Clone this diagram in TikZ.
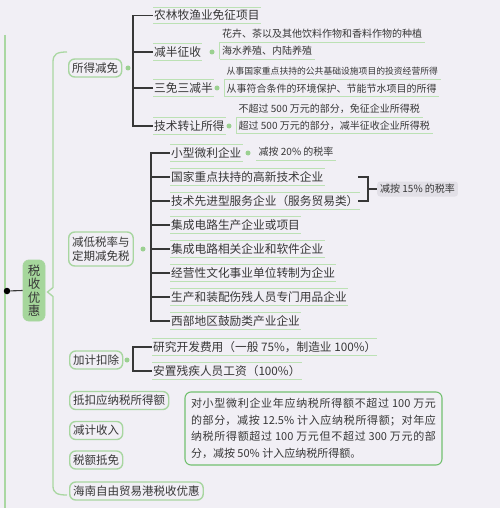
\documentclass[tikz,border=0pt]{standalone}
\usepackage{fontspec}
\setmainfont{Noto Sans CJK SC}
\XeTeXlinebreaklocale "zh"
\XeTeXlinebreakskip = 0pt plus 2pt
\definecolor{bg}{RGB}{241,239,245}
\definecolor{boxline}{RGB}{168,214,160}
\definecolor{mainline}{RGB}{170,215,162}
\definecolor{leafline}{RGB}{188,225,180}
\definecolor{gdot}{RGB}{155,208,145}
\definecolor{conn}{RGB}{55,55,55}
\definecolor{txt}{RGB}{55,55,55}
\definecolor{rootfill}{RGB}{165,214,155}
\definecolor{notebord}{RGB}{115,192,112}
\definecolor{grayfill}{RGB}{226,224,231}
\begin{document}
\begin{tikzpicture}[x=1pt,y=-1pt,
  lvtwo/.style={draw=boxline, line width=1.4pt, rounded corners=6pt, fill=bg, text=txt,
    font=\fontsize{11.5}{14}\selectfont, inner xsep=3.5pt, inner ysep=0pt, minimum height=18pt, anchor=west},
  leaf/.style={text=txt, font=\fontsize{11.7}{14}\selectfont, inner xsep=1pt, inner ysep=0pt,
    minimum height=16pt, anchor=west},
  small/.style={text=txt, font=\fontsize{10}{12}\selectfont, inner xsep=2.5pt, inner ysep=0pt,
    minimum height=16pt, anchor=west},
  gdotst/.style={circle, fill=gdot, inner sep=0pt, minimum size=5pt},
  connst/.style={draw=conn, line width=1.1pt},
  mline/.style={draw=mainline, line width=1.3pt},
  lline/.style={draw=leafline, line width=1pt},
]
\fill[bg] (0,0) rectangle (500,508);
\useasboundingbox (0,0) rectangle (500,508);

% left line and root
\coordinate (lt) at (5,35);
\coordinate (lb) at (5,508);
\draw[mline] (lt) -- (lb);
\node[draw=boxline, line width=0.8pt, fill=rootfill, rounded corners=6pt, minimum width=22pt, minimum height=61pt,
  inner sep=0pt, align=center, text=txt, font=\fontsize{12.5}{13.5}\selectfont] (root) at (34,290.5) {税\\收\\优\\惠};
\node[circle, fill=black, inner sep=0pt, minimum size=6.5pt] (rdot) at (7,291) {};
\draw[connst] (rdot) -- (root.west);

% brace
\draw[mline] (67,52) .. controls (57,52) and (53,54) .. (53,62) -- (53,287.5) -- (47.5,292) -- (53,296.5)
  -- (53,486) .. controls (53,493) and (57,495) .. (67,495);

% level two
\node[lvtwo] (sdjm) at (68,68) {所得减免};
\node[lvtwo, minimum height=34pt, align=center] (jdsl) at (68,249) {减低税率与\\定期减免税};
\node[lvtwo] (jjkc) at (69,360) {加计扣除};
\node[lvtwo] (dkyn) at (69,400.5) {抵扣应纳税所得额};
\node[lvtwo] (jjsr) at (69,430.5) {减计收入};
\node[lvtwo] (sedm) at (69,460) {税额抵免};
\node[lvtwo] (hnzm) at (69,491) {海南自由贸易港税收优惠};

\node[gdotst] (d1) at (128,68) {};
\node[gdotst] (d2) at (143,249) {};
\node[gdotst] (d3) at (127,360) {};

% children of 所得减免
\node[leaf] (a1) at (153,15.5) {农林牧渔业免征项目};
\node[leaf] (a2) at (153,52) {减半征收};
\node[leaf] (a3) at (153,88) {三免三减半};
\node[leaf] (a4) at (153,126) {技术转让所得};
\coordinate (ba) at (133,68);
\draw[connst] (a1.west) -| (ba) |- (a4.west);
\draw[connst] (a2.west) -- (a2.west -| ba);
\draw[connst] (a3.west) -- (a3.west -| ba);

\node[gdotst] (e2) at (212,52) {};
\node[gdotst] (e3) at (217,88) {};
\node[gdotst] (e4) at (229,126) {};

\node[small] (a2t) at (219.5,34) {花卉、茶以及其他饮料作物和香料作物的种植};
\node[small] (a2b) at (219.5,51) {海水养殖、内陆养殖};
\node[small, font=\fontsize{8.8}{10}\selectfont] (a3t) at (224,71) {从事国家重点扶持的公共基础设施项目的投资经营所得};
\node[small] (a3b) at (224,88.5) {从事符合条件的环境保护、节能节水项目的所得};
\node[small] (a4t) at (236,109) {不超过 500 万元的部分，免征企业所得税};
\node[small] (a4b) at (236,125.5) {超过 500 万元的部分，减半征收企业所得税};
\foreach \t/\b in {a2t/a2b, a3t/a3b, a4t/a4b} {
  \draw[lline] (\t.south west) -- (\t.south east);
  \draw[lline] (\b.south west) -- (\b.south east);
  \draw[lline] (\t.south west) -- (\b.south west);
}

% children of 减低税率与定期减免税
\node[leaf] (b1) at (170,153) {小型微利企业};
\node[leaf] (b2) at (170,177) {国家重点扶持的高新技术企业};
\node[leaf] (b3) at (170,201) {技术先进型服务企业（服务贸易类）};
\node[leaf] (b4) at (170,225) {集成电路生产企业或项目};
\node[leaf] (b5) at (170,249) {集成电路相关企业和软件企业};
\node[leaf] (b6) at (170,273) {经营性文化事业单位转制为企业};
\node[leaf] (b7) at (170,297) {生产和装配伤残人员专门用品企业};
\node[leaf] (b8) at (170,321) {西部地区鼓励类产业企业};
\coordinate (bb) at (151,249);
\draw[connst] (b1.west) -| (bb) |- (b8.west);
\foreach \n in {b2,b3,b4,b5,b6,b7} \draw[connst] (\n.west) -- (\n.west -| bb);

\node[gdotst] (e5) at (248,153) {};
\node[small] (b1r) at (256,152) {减按 20\% 的税率};
\draw[lline] (b1r.south west) -- (b1r.south east);

\coordinate (c1) at (358,177);
\coordinate (c2) at (358,201);
\coordinate (c3) at (368,189);
\node[fill=grayfill, rounded corners=3pt, text=txt, font=\fontsize{10}{12}\selectfont, inner xsep=3pt,
  inner ysep=0pt, minimum height=15pt, anchor=west] (r15) at (377,189) {减按 15\% 的税率};
\draw[connst] (c1) -| (c3) |- (c2);
\draw[connst] (c3) -- (r15.west);

% children of 加计扣除
\node[leaf] (k1) at (152,347) {研究开发费用（一般 75\%，制造业 100\%）};
\node[leaf] (k2) at (152,371) {安置残疾人员工资（100\%）};
\coordinate (bk) at (133,360);
\draw[connst] (k1.west) -| (bk) |- (k2.west);

\foreach \n in {a1,a2,a3,a4,b1,b2,b3,b4,b5,b6,b7,b8,k1,k2} {
  \draw[lline] (\n.north west) -- (\n.north east);
  \draw[lline] (\n.south west) -- (\n.south east);
}

% note
\node[draw=notebord, line width=1.1pt, rounded corners=6pt, fill=bg, text=txt,
  font=\fontsize{11}{16.7}\selectfont, text width=245pt, align=justify, inner xsep=6pt, inner ysep=0pt,
  minimum height=73pt] (note) at (313.5,428.5)
  {对小型微利企业年应纳税所得额不超过 100 万元\linebreak 的部分，减按 12.5\% 计入应纳税所得额；对年应\linebreak 纳税所得额超过 100 万元但不超过 300 万元的部\linebreak 分，减按 50\% 计入应纳税所得额。};
\end{tikzpicture}
\end{document}
